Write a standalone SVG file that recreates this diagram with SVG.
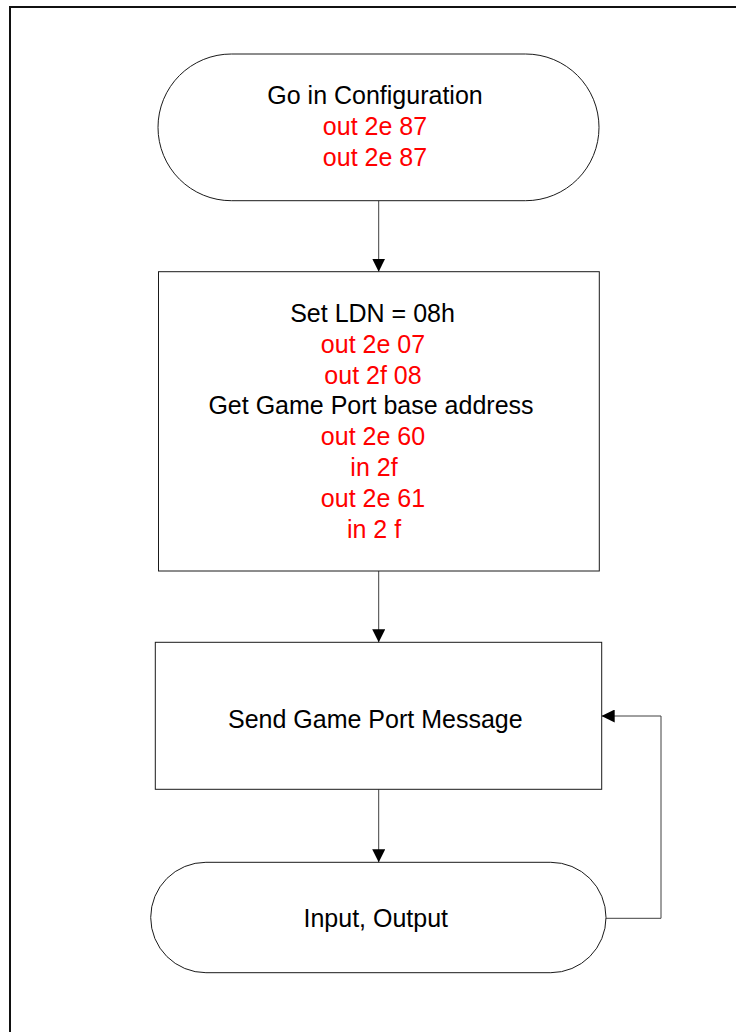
<svg xmlns="http://www.w3.org/2000/svg" width="736" height="1032" viewBox="0 0 736 1032">
<style>
.shape{fill:#fff;stroke:#1a1a1a;stroke-width:1}
.conn{fill:none;stroke:#404040;stroke-width:1}
text{font-family:"Liberation Sans",Arial,sans-serif;font-size:25px;text-anchor:middle}
.k{fill:#000}
.r{fill:#ff0000}
</style>
<defs>
<marker id="ah" viewBox="0 0 13 13" refX="13" refY="6.5" markerWidth="13" markerHeight="13" markerUnits="userSpaceOnUse" orient="auto">
<path d="M0,0 L13,6.5 L0,13 Z" fill="#000"/>
</marker>
</defs>
<rect x="0" y="0" width="736" height="1032" fill="#fff"/>
<path d="M10,1040 V7 H740" fill="none" stroke="#111" stroke-width="2"/>
<g id="connectors">
<line class="conn" x1="378.7" y1="200.7" x2="378.7" y2="271.7" marker-end="url(#ah)"/>
<line class="conn" x1="378.7" y1="571" x2="378.7" y2="642.3" marker-end="url(#ah)"/>
<line class="conn" x1="378.7" y1="789.3" x2="378.7" y2="862.3" marker-end="url(#ah)"/>
<polyline class="conn" points="606,918.3 661,918.3 661,716 601.7,716" marker-end="url(#ah)"/>
</g>
<g id="start">
<rect class="shape" x="158" y="54" width="441" height="146.7" rx="73.35" ry="73.35"/>
<text class="k" x="375" y="104">Go in Configuration</text>
<text class="r" x="375" y="135">out 2e 87</text>
<text class="r" x="375" y="165.7">out 2e 87</text>
</g>
<g id="setldn">
<rect class="shape" x="158.5" y="271.7" width="440.8" height="299.3"/>
<text class="k" x="372.5" y="321.7">Set LDN = 08h</text>
<text class="r" x="373" y="352.6">out 2e 07</text>
<text class="r" x="373" y="383.5">out 2f 08</text>
<text class="k" x="371" y="414.4">Get Game Port base address</text>
<text class="r" x="373" y="445.3">out 2e 60</text>
<text class="r" x="374" y="476.2">in 2f</text>
<text class="r" x="373" y="507.1">out 2e 61</text>
<text class="r" x="374" y="538">in 2 f</text>
</g>
<g id="send">
<rect class="shape" x="155.3" y="642.3" width="446.4" height="147"/>
<text class="k" x="375.3" y="728.3">Send Game Port Message</text>
</g>
<g id="io">
<rect class="shape" x="150.7" y="862.3" width="455.3" height="110.4" rx="55.2" ry="55.2"/>
<text class="k" x="375.8" y="926.7">Input, Output</text>
</g>
</svg>
